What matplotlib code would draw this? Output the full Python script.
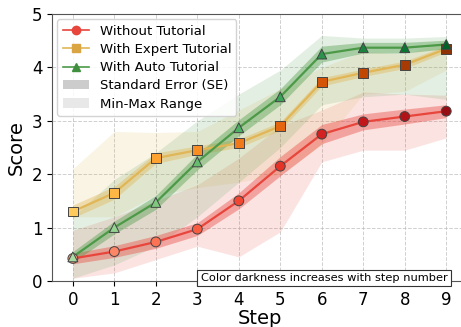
import numpy as np
import matplotlib
matplotlib.use('Agg')
import matplotlib.pyplot as plt
from matplotlib.lines import Line2D
from matplotlib.patches import Patch


steps = np.arange(10)

# Without Tutorial
without_mean = [0.42, 0.55, 0.73, 0.97, 1.50, 2.15, 2.75, 2.98, 3.08, 3.18]
without_se = [0.10, 0.11, 0.12, 0.12, 0.15, 0.18, 0.18, 0.15, 0.14, 0.12]
without_min = [0.05, 0.15, 0.40, 0.65, 0.45, 0.92, 2.23, 2.45, 2.45, 2.68]
without_max = [0.95, 1.20, 1.50, 1.80, 2.30, 2.90, 3.20, 3.54, 3.50, 3.48]

# With Expert Tutorial
expert_mean = [1.30, 1.65, 2.30, 2.45, 2.58, 2.90, 3.73, 3.90, 4.05, 4.35]
expert_se = [0.12, 0.12, 0.10, 0.08, 0.08, 0.08, 0.08, 0.07, 0.07, 0.06]
expert_min = [1.20, 1.20, 1.60, 1.75, 1.85, 2.00, 2.55, 3.50, 3.55, 3.95]
expert_max = [2.10, 2.80, 2.78, 2.80, 3.20, 3.60, 4.00, 4.30, 4.25, 4.50]

# With Auto Tutorial
auto_mean = [0.45, 1.00, 1.47, 2.23, 2.87, 3.45, 4.25, 4.37, 4.37, 4.43]
auto_se = [0.10, 0.12, 0.13, 0.15, 0.15, 0.15, 0.15, 0.10, 0.10, 0.08]
auto_min = [0.05, 0.30, 0.65, 1.20, 1.85, 2.50, 3.30, 3.45, 3.50, 3.40]
auto_max = [1.20, 1.90, 2.40, 3.00, 3.50, 3.95, 4.60, 4.55, 4.55, 4.58]

series = [
    ('Without Tutorial', without_mean, without_se, without_min, without_max,
     '#e8453c', 'Reds', 'o', '#e8453c'),
    ('With Expert Tutorial', expert_mean, expert_se, expert_min, expert_max,
     '#e0b656', 'YlOrBr', 's', '#d9a441'),
    ('With Auto Tutorial', auto_mean, auto_se, auto_min, auto_max,
     '#4c9a48', 'Greens', '^', '#3f8f3f'),
]

fig = plt.figure(figsize=(4.61, 3.27), dpi=100)
ax = fig.add_axes([0.113, 0.141, 0.900, 0.816])

handles = []
for name, mean, se, lo, hi, col, cmap, mk, legcol in series:
    mean = np.array(mean)
    se = np.array(se)
    ax.fill_between(steps, lo, hi, color=col, alpha=0.15, lw=0, zorder=1)
    ax.fill_between(steps, mean - se, mean + se, color=col, alpha=0.4, lw=0, zorder=2)
    ax.plot(steps, mean, color=col, lw=1.6, zorder=3)
    # marker colour darkens with step
    shades = plt.get_cmap(cmap)(np.linspace(0.35, 0.9, len(steps)))
    ax.scatter(steps, mean, c=shades, marker=mk, s=50, edgecolors='#444444',
               linewidths=0.7, zorder=4)
    handles.append(Line2D([0], [0], color=col, lw=1.2, marker=mk, markersize=6,
                          markerfacecolor=legcol, markeredgecolor=legcol))

handles.append(Patch(facecolor='#cccccc', edgecolor='none'))
handles.append(Patch(facecolor='#e8e8e8', edgecolor='none'))
labels = [s[0] for s in series] + ['Standard Error (SE)', 'Min-Max Range']
ax.legend(handles, labels, loc='upper left', fontsize=9.5, framealpha=0.85,
          borderaxespad=0.4, handlelength=2.0, labelspacing=0.4)

ax.set_xlim(-0.5, 9.5)
ax.set_ylim(0, 5)
ax.set_xticks(steps)
ax.set_yticks(range(6))
ax.tick_params(labelsize=12)
ax.set_xlabel('Step', fontsize=14, labelpad=0)
ax.set_ylabel('Score', fontsize=14)
ax.grid(True, ls='--', lw=0.7, color='#bbbbbb', alpha=0.7)
ax.set_axisbelow(True)
for sp in ax.spines.values():
    sp.set_color('#555555')

ax.text(0.953, -0.008, 'Color darkness increases with step number',
        transform=ax.transAxes, ha='right', va='bottom', fontsize=8.2, zorder=6,
        bbox=dict(boxstyle='square,pad=0.3', facecolor='white', edgecolor='#333333', lw=0.8))

fig.savefig('out.png', dpi=100)
